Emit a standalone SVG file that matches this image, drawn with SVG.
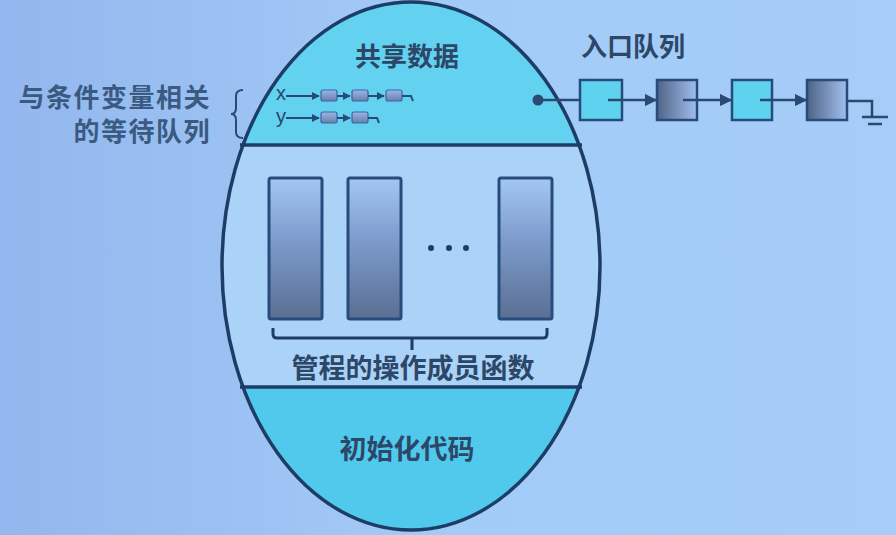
<svg xmlns="http://www.w3.org/2000/svg" width="896" height="535" viewBox="0 0 896 535">
<defs>
<linearGradient id="bg" x1="0" y1="0" x2="1" y2="0">
<stop offset="0" stop-color="#93b7ee"/>
<stop offset="0.5" stop-color="#a3cbf7"/>
<stop offset="1" stop-color="#a5cdf8"/>
</linearGradient>
<linearGradient id="vbar" x1="0" y1="0" x2="0" y2="1">
<stop offset="0" stop-color="#a3c7f5"/>
<stop offset="0.45" stop-color="#7c9acb"/>
<stop offset="1" stop-color="#5a6f92"/>
</linearGradient>
<linearGradient id="dark" x1="0" y1="0" x2="1" y2="0">
<stop offset="0" stop-color="#4f6385"/>
<stop offset="1" stop-color="#a2c0ee"/>
</linearGradient>
<linearGradient id="small" x1="0" y1="0" x2="0" y2="1">
<stop offset="0" stop-color="#9ab6e6"/>
<stop offset="1" stop-color="#6a7fa8"/>
</linearGradient>
<clipPath id="ov"><ellipse cx="411" cy="266" rx="189" ry="264"/></clipPath>
<marker id="ah" viewBox="0 0 10 10" refX="9" refY="5" markerWidth="5" markerHeight="5" orient="auto" markerUnits="strokeWidth">
<path d="M0,0 L10,5 L0,10 z" fill="#2a4a74"/>
</marker>
<marker id="sah" viewBox="0 0 10 10" refX="9" refY="5" markerWidth="4" markerHeight="4" orient="auto" markerUnits="strokeWidth">
<path d="M0,0 L10,5 L0,10 z" fill="#2a4a74"/>
</marker>
</defs>
<style>
.t{font-family:"Noto Sans CJK SC","Noto Sans",sans-serif;font-weight:bold;fill:#2c4768;}
.lbl{font-family:"Noto Sans CJK SC","Noto Sans",sans-serif;font-weight:bold;fill:#3a5a82;letter-spacing:1.5px;}
.xy{font-family:"Liberation Sans","DejaVu Sans",sans-serif;fill:#2c4768;font-size:20px;}
.bar{fill:url(#vbar);stroke:#274c7c;stroke-width:3;}
.cy{fill:#5fd2f0;stroke:#274c7c;stroke-width:2.5;}
.dk{fill:url(#dark);stroke:#274c7c;stroke-width:2.5;}
.sq{fill:url(#small);stroke:#3a66a8;stroke-width:1.2;}
.ln{stroke:#2a4a74;stroke-width:2.5;fill:none;}
.sl{stroke:#2a4a74;stroke-width:2;fill:none;}
</style>
<rect width="896" height="535" fill="url(#bg)"/>

<g id="monitor">
<ellipse cx="411" cy="266" rx="189" ry="264" fill="#abd3f7"/>
<g clip-path="url(#ov)">
<rect x="200" y="0" width="420" height="145" fill="#62d2f0"/>
<rect x="200" y="387" width="420" height="150" fill="#50c9ec"/>
</g>
<line x1="240" y1="145" x2="582" y2="145" stroke="#1e3d66" stroke-width="3.5"/>
<line x1="240" y1="387" x2="582" y2="387" stroke="#1e3d66" stroke-width="3.5"/>
<ellipse cx="411" cy="266" rx="189" ry="264" fill="none" stroke="#1e3d66" stroke-width="3.5"/>
</g>

<g id="shared-data">
<text class="t" x="407" y="66" font-size="26" text-anchor="middle">共享数据</text>
</g>

<g id="cond-queues">
<text class="xy" x="276" y="100">x</text>
<text class="xy" x="276" y="123">y</text>
<rect class="sq" x="321" y="90" width="16" height="11" rx="2"/>
<rect class="sq" x="352" y="90" width="16" height="11" rx="2"/>
<rect class="sq" x="386" y="90" width="16" height="11" rx="2"/>
<rect class="sq" x="321" y="112" width="16" height="11" rx="2"/>
<rect class="sq" x="352" y="112" width="16" height="11" rx="2"/>
</g>

<g id="cond-label">
<text class="lbl" x="211" y="107" font-size="26" text-anchor="end">与条件变量相关</text>
<text class="lbl" x="211" y="141" font-size="26" text-anchor="end">的等待队列</text>
<path d="M243,90 Q236,90 236,96 L236,108 Q236,114 231,114 Q236,114 236,120 L236,132 Q236,138 243,138" class="sl" stroke="#3a5a82"/>
</g>

<g id="ops">
<rect class="bar" x="269" y="178" width="53" height="141" rx="2"/>
<rect class="bar" x="348" y="178" width="53" height="141" rx="2"/>
<rect class="bar" x="499" y="178" width="53" height="141" rx="2"/>
<circle cx="431" cy="248" r="3" fill="#1e3d66"/>
<circle cx="449" cy="248" r="3" fill="#1e3d66"/>
<circle cx="466" cy="248" r="3" fill="#1e3d66"/>
<path d="M273,328 L273,334 Q273,338 277,338 L543,338 Q547,338 547,334 L547,328 M412,338 L412,350" stroke="#1e3d66" stroke-width="3" fill="none"/>
<text class="t" x="413" y="378" font-size="27" text-anchor="middle">管程的操作成员函数</text>
</g>

<g id="init-code">
<text class="t" x="407" y="459" font-size="27" text-anchor="middle">初始化代码</text>
</g>

<g id="entry-label">
<text class="t" x="633" y="56" font-size="26" text-anchor="middle">入口队列</text>
</g>

<g id="entry-queue">
<rect class="cy" x="580" y="80" width="42" height="40"/>
<rect class="dk" x="657" y="80" width="40" height="40"/>
<rect class="cy" x="732" y="80" width="40" height="40"/>
<rect class="dk" x="807" y="80" width="40" height="40"/>
</g>

<g id="connectors">
<line class="sl" x1="286" y1="96" x2="319" y2="96" marker-end="url(#sah)"/>
<line class="sl" x1="337" y1="96" x2="350" y2="96" marker-end="url(#sah)"/>
<line class="sl" x1="368" y1="96" x2="384" y2="96" marker-end="url(#sah)"/>
<path class="sl" d="M402,96 L411,96 L413,101"/>
<line class="sl" x1="286" y1="118" x2="319" y2="118" marker-end="url(#sah)"/>
<line class="sl" x1="337" y1="118" x2="350" y2="118" marker-end="url(#sah)"/>
<path class="sl" d="M368,118 L377,118 L379,123"/>
<circle cx="538" cy="100" r="5.5" fill="#2a4a74"/>
<line class="ln" x1="538" y1="100" x2="580" y2="100"/>
<line class="ln" x1="608" y1="100" x2="656" y2="100" marker-end="url(#ah)"/>
<line class="ln" x1="683" y1="100" x2="731" y2="100" marker-end="url(#ah)"/>
<line class="ln" x1="760" y1="100" x2="806" y2="100" marker-end="url(#ah)"/>
<path class="ln" d="M847,101 L872,101 L872,117"/>
<line class="ln" x1="862" y1="117" x2="888" y2="117"/>
<line class="ln" x1="868" y1="124" x2="882" y2="124"/>
</g>
</svg>
